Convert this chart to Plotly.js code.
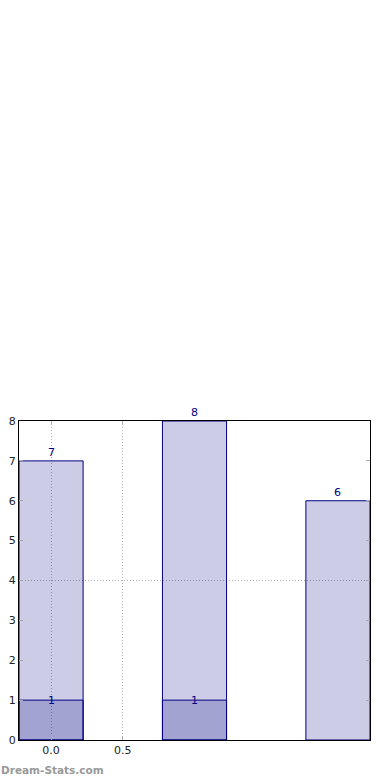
<!DOCTYPE html>
<html><head><meta charset="utf-8">
<script src="https://cdn.plot.ly/plotly-3.0.1.min.js"></script>
<style>html,body{margin:0;padding:0;background:#fff;}#chart{width:390px;height:780px;}</style>
</head><body><div id="chart"></div>
<script>
var positions = [0, 1, 2];
var totalValues = [7, 8, 6];
var subPositions = [0, 1];
var subValues = [1, 1];
var xTickVals = [0, 0.5];
var xTickText = ['0.0', '0.5'];
var yTickVals = [0, 1, 2, 3, 4, 5, 6, 7, 8];

var barFill = 'rgba(0,0,128,0.2)';
var edge = '#000080';
var traces = [
  {type: 'bar', x: positions, y: totalValues, width: 0.447,
   marker: {color: barFill, line: {color: edge, width: 1}}, hoverinfo: 'none'},
  {type: 'bar', x: subPositions, y: subValues, width: 0.447,
   marker: {color: barFill, line: {color: edge, width: 1}}, hoverinfo: 'none'},
  {type: 'scatter', x: [0], y: [0], yaxis: 'y2', mode: 'none', hoverinfo: 'none', showlegend: false}
];

var annotations = [];
positions.forEach(function (p, i) {
  annotations.push({x: p, y: totalValues[i], xref: 'x', yref: 'y', text: String(totalValues[i]),
    showarrow: false, yanchor: 'bottom', yshift: 0, font: {family: 'DejaVu Sans', size: 11, color: '#000080'}});
});
subPositions.forEach(function (p, i) {
  annotations.push({x: p, y: subValues[i], xref: 'x', yref: 'y', text: String(subValues[i]),
    showarrow: false, yanchor: 'middle', font: {family: 'DejaVu Sans', size: 11, color: '#000080'}});
});
annotations.push({x: 0, y: 0, xref: 'paper', yref: 'paper', xanchor: 'left', yanchor: 'middle',
  yshift: -30, xshift: -20, text: '<b>Dream-Stats.com</b>', showarrow: false,
  font: {family: 'DejaVu Sans', size: 10.5, color: '#999999'}});

var layout = {
  width: 390, height: 780,
  margin: {l: 19, r: 20, t: 421, b: 40},
  paper_bgcolor: '#ffffff', plot_bgcolor: '#ffffff',
  barmode: 'overlay', showlegend: false,
  font: {family: 'DejaVu Sans', size: 11, color: '#222222'},
  xaxis: {range: [-0.2235, 2.2235], tickvals: xTickVals, ticktext: xTickText,
    showgrid: true, gridcolor: '#b0b0b0', griddash: '1px,2px', gridwidth: 1,
    zeroline: false, showline: true, linecolor: '#000000', linewidth: 1, mirror: 'ticks',
    ticks: 'inside', ticklen: 4, tickcolor: '#aaaaaa', tickfont: {size: 11, color: '#222222'}},
  yaxis: {range: [0, 8], tickvals: yTickVals, showgrid: false, zeroline: false,
    showline: true, linecolor: '#000000', linewidth: 1, mirror: 'ticks',
    ticks: 'inside', ticklen: 4, tickcolor: '#aaaaaa', tickfont: {size: 11, color: '#222222'}},
  yaxis2: {overlaying: 'y', range: [0, 8], tickvals: [4], showticklabels: false, ticks: '',
    showgrid: true, gridcolor: '#b0b0b0', griddash: '1px,2px', gridwidth: 1, zeroline: false, showline: false},
  annotations: annotations
};
Plotly.newPlot('chart', traces, layout, {staticPlot: true, displayModeBar: false});
</script></body></html>
